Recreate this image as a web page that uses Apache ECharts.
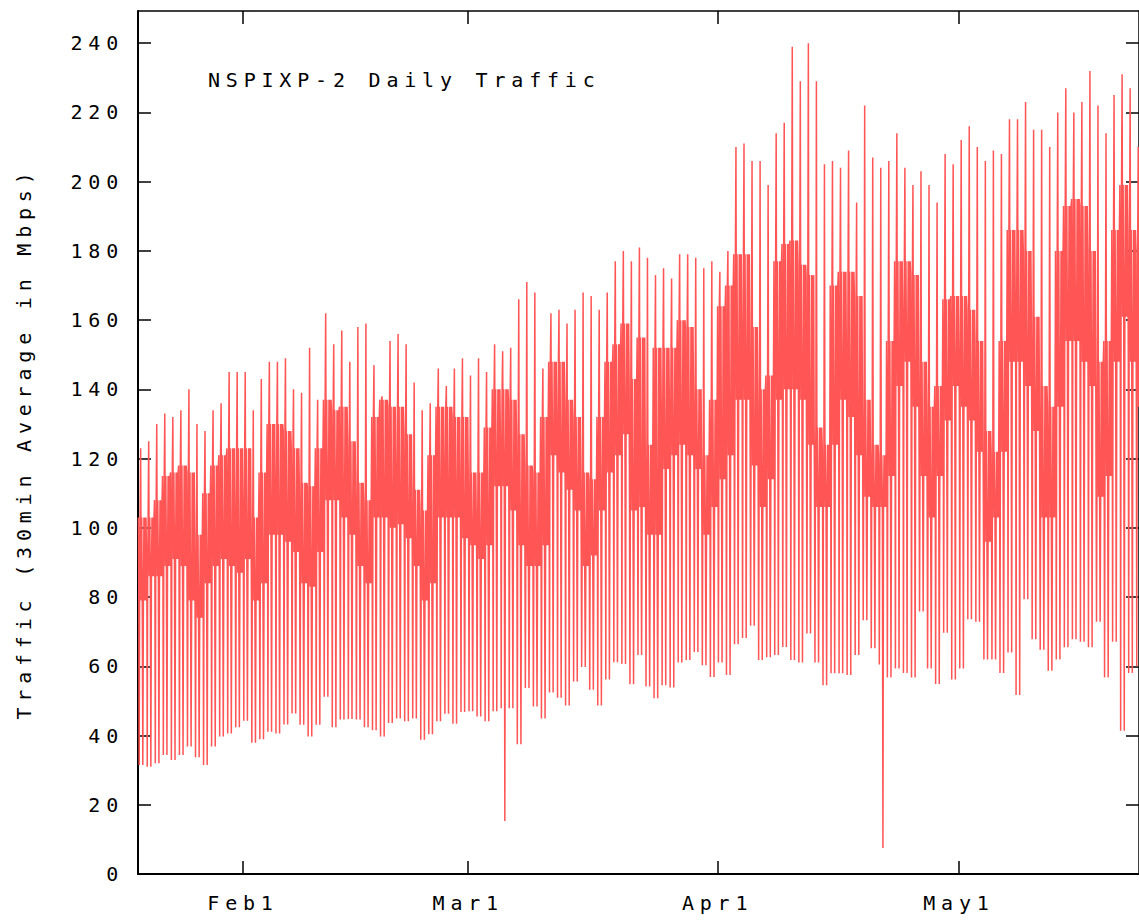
<!DOCTYPE html>
<html>
<head>
<meta charset="utf-8">
<script src="https://cdn.jsdelivr.net/npm/echarts@6.0.0/dist/echarts.min.js"></script>
<style>
html, body { margin: 0; padding: 0; background: #ffffff; }
#chart { width: 1139px; height: 921px; }
#chart text { letter-spacing: 5.8px; }
</style>
</head>
<body>
<div id="chart"></div>
<script>
// Day 0 = Jan 19. Values read per day off the reference picture.
const peaks = [
  123,125,130,133,132,134,140,130,128,134,
  136,145,145,145,134,143,148,148,149,140,
  139,152,137,162,153,157,148,158,159,147,
  138,154,156,153,142,134,136,146,141,146,
  149,144,149,145,153,151,152,166,171,168,
  146,162,163,159,163,168,167,163,168,177,
  180,177,181,178,173,175,172,179,179,178,
  175,177,174,180,210,211,206,206,199,214,
  217,239,229,240,229,205,206,204,209,194,
  222,207,204,206,214,204,199,203,199,194,
  208,205,212,216,210,206,209,208,218,218,
  223,215,215,210,220,227,220,223,232,222,
  214,225,231,227,210
];
// Night minimum of each day (includes the two outage dips on day 45 and day 92).
const nightLows = [
  31.5,31,32,34.4,32.9,34.4,36.8,33.7,31.5,36.8,
  39.7,40.6,42.4,44.3,37.9,38.9,41.1,40.6,43.2,46.4,
  43.1,39.7,43.1,51.2,42.4,44.6,44.8,44.6,42.4,41.5,
  39.7,43.6,44.9,44.1,44.9,38.8,40.4,44.1,46.3,43.4,
  46.8,47,45.5,44.1,47,15.3,47.9,37.5,53.7,48.4,
  44.9,52.4,50.9,48.7,55.6,59.8,53.2,48.7,56.2,61.2,
  60.7,54.8,63.3,54.2,50.8,54.5,53.9,61.1,61.8,64.1,
  60.3,56.9,61.1,57.5,66.4,68.2,71.7,61.8,62.6,63.3,
  65.6,61.8,61.1,69.5,61.1,54.5,58,58,57.5,63.3,
  73.3,65.2,7.5,56.8,59.4,58.1,56.8,75.8,59.4,54.9,
  69.7,56.2,59.4,73.6,72.9,62,62,58.1,64,51.7,
  79.4,67.8,64.8,58.7,62,65.5,67.8,67.1,65.5,72.9,
  56.8,67.1,41.4,58.1,60
];
// Early-morning dip of each day (same as the night minimum except on the outage days).
const morningLows = [
  31.5,31,32,34.4,32.9,34.4,36.8,33.7,31.5,36.8,
  39.7,40.6,42.4,44.3,37.9,38.9,41.1,40.6,43.2,46.4,
  43.1,39.7,43.1,51.2,42.4,44.6,44.8,44.6,42.4,41.5,
  39.7,43.6,44.9,44.1,44.9,38.8,40.4,44.1,46.3,43.4,
  46.8,47,45.5,44.1,47,47.9,47.9,37.5,53.7,48.4,
  44.9,52.4,50.9,48.7,55.6,59.8,53.2,48.7,56.2,61.2,
  60.7,54.8,63.3,54.2,50.8,54.5,53.9,61.1,61.8,64.1,
  60.3,56.9,61.1,57.5,66.4,68.2,71.7,61.8,62.6,63.3,
  65.6,61.8,61.1,69.5,61.1,54.5,58,58,57.5,63.3,
  73.3,65.2,60.5,56.8,59.4,58.1,56.8,75.8,59.4,54.9,
  69.7,56.2,59.4,73.6,72.9,62,62,58.1,64,51.7,
  79.4,67.8,64.8,58.7,62,65.5,67.8,67.1,65.5,72.9,
  56.8,67.1,41.4,58.1,60
];
// Daytime band (range of the daytime 30-min averages) per day.
const bandLo = [
  79,86,86,89,91,89,79,74,84,89,
  91,89,87,91,79,84,98,98,96,93,
  84,83,93,108,108,103,98,89,84,103,
  103,100,101,97,89,79,84,103,103,103,
  97,95,91,95,112,112,105,95,89,89,
  95,121,116,111,105,89,92,105,116,121,
  127,105,106,98,98,117,121,124,121,117,
  98,106,114,121,137,137,118,106,114,137,
  140,140,137,124,106,106,124,137,132,121,
  109,106,106,115,141,148,135,115,103,115,
  131,141,135,131,122,96,103,122,148,148,
  141,128,103,103,135,154,154,148,141,109,
  115,148,161,148,135
];
const bandHi = [
  103,103,108,115,116,118,116,98,110,118,
  121,123,123,123,103,116,130,130,128,123,
  113,112,123,137,134,135,125,113,108,132,
  137,135,135,127,111,105,121,135,135,132,
  132,116,116,129,140,140,137,127,118,116,
  132,148,148,137,132,116,114,132,148,153,
  159,143,155,124,152,152,152,160,158,140,
  121,137,164,170,179,179,158,140,144,177,
  182,183,176,173,129,124,170,174,174,167,
  137,124,121,154,177,177,173,148,135,141,
  166,167,167,163,154,128,122,154,186,186,
  180,161,141,135,180,193,195,193,180,148,
  154,186,199,186,180
];
// Order and time-of-day (fraction of a day) of the samples taken from each day's readings.
const daySamples = [
  [0.00, 'hi'], [0.05, 'lo'], [0.10, 'dip'], [0.15, 'lo'], [0.21, 'hi'],
  [0.28, 'peak'], [0.35, 'lo'], [0.41, 'hi'], [0.48, 'lo'], [0.55, 'night'],
  [0.62, 'lo'], [0.69, 'hi'], [0.76, 'lo'], [0.82, 'hi'], [0.88, 'lo'], [0.94, 'hi']
];
const xTickDays = [13, 41, 72, 102];
const xTickLabels = ['Feb1', 'Mar1', 'Apr1', 'May1'];
const yTicks = [0, 20, 40, 60, 80, 100, 120, 140, 160, 180, 200, 220, 240];
const titleText = 'NSPIXP-2 Daily Traffic';
const yTitle = 'Traffic (30min Average in Mbps)';

const series = [];
for (let d = 0; d < peaks.length; d++) {
  const v = { hi: bandHi[d], lo: bandLo[d], peak: peaks[d], night: nightLows[d], dip: morningLows[d] };
  for (const [f, k] of daySamples) series.push([d + f, v[k]]);
}

const FONT = '"DejaVu Sans Mono", monospace';
const FS = 20;
const X_MIN = -0.05, X_MAX = 124.38, Y_MIN = 0, Y_MAX = 249.3;

function xAxisCfg(pos, lineW) {
  return {
    type: 'value', position: pos, min: X_MIN, max: X_MAX,
    axisLine: { show: true, onZero: false, lineStyle: { color: '#000', width: lineW } },
    axisTick: { show: true, inside: true, length: 13, customValues: xTickDays, lineStyle: { color: '#000', width: 1.5 } },
    axisLabel: {
      show: pos === 'bottom', customValues: xTickDays, margin: 19,
      formatter: v => { const i = xTickDays.indexOf(v); return i >= 0 ? xTickLabels[i] : ''; },
      color: '#000', fontFamily: FONT, fontSize: FS
    },
    splitLine: { show: false }
  };
}
function yAxisCfg(pos, lineW) {
  return {
    type: 'value', position: pos, min: Y_MIN, max: Y_MAX,
    axisLine: { show: true, onZero: false, lineStyle: { color: '#000', width: lineW } },
    axisTick: { show: true, inside: true, length: 13, customValues: yTicks, lineStyle: { color: '#000', width: 1.5 } },
    axisLabel: {
      show: pos === 'left', customValues: yTicks, margin: 14,
      formatter: v => String(v),
      color: '#000', fontFamily: FONT, fontSize: FS
    },
    splitLine: { show: false }
  };
}

const chart = echarts.init(document.getElementById('chart'), null, { renderer: 'svg', width: 1139, height: 921 });
chart.setOption({
  animation: false,
  backgroundColor: '#ffffff',
  grid: { left: 138, top: 11, right: 0, bottom: 47, containLabel: false },
  xAxis: [xAxisCfg('bottom', 2), xAxisCfg('top', 1.5)],
  yAxis: [yAxisCfg('left', 2), yAxisCfg('right', 1.5)],
  graphic: [
    { type: 'text', x: 208, y: 80, silent: true,
      style: { text: titleText, fill: '#000', fontFamily: FONT, fontSize: FS, align: 'left', verticalAlign: 'middle' } },
    { type: 'text', x: 24, y: 443, rotation: Math.PI / 2, silent: true,
      style: { text: yTitle, fill: '#000', fontFamily: FONT, fontSize: FS, align: 'center', verticalAlign: 'middle' } }
  ],
  series: [{
    type: 'line', xAxisIndex: 0, yAxisIndex: 0, data: series,
    showSymbol: false, symbol: 'none', silent: true, clip: true,
    lineStyle: { color: '#ff5555', width: 1.5 }
  }]
});
</script>
</body>
</html>
